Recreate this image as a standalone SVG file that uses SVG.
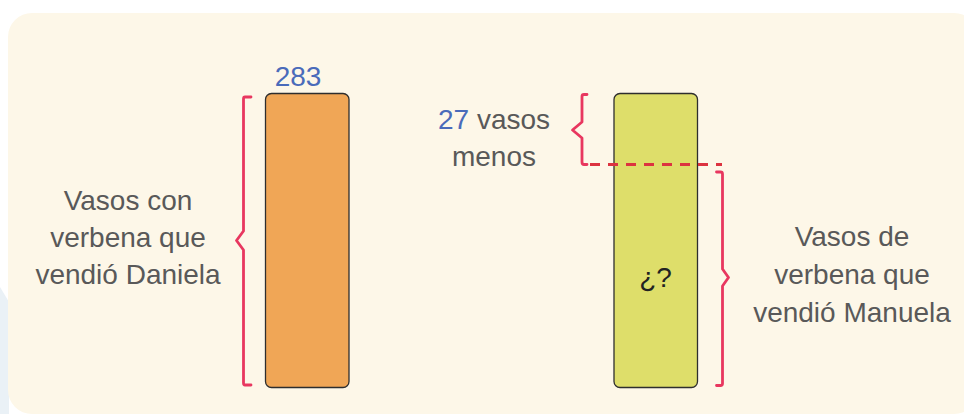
<svg xmlns="http://www.w3.org/2000/svg" width="964" height="414" viewBox="0 0 964 414">
  <style>
    .lbl { font-family: "Liberation Sans", Arial, sans-serif; font-size: 28px; fill: #595959; text-anchor: middle; }
    .num { fill: #4A6BBA; }
    .bar { stroke: #2E2E2E; stroke-width: 1.3; }
    .brace { fill: none; stroke: #E8375F; stroke-width: 2.8; stroke-linejoin: round; stroke-linecap: round; }
    .dash { fill: none; stroke: #DC3340; stroke-width: 3; stroke-dasharray: 10 8; }
  </style>
  <rect x="0" y="0" width="964" height="414" fill="#FFFFFF"/>
  <path d="M0,287 L9,302 L9,414 L0,414 Z" fill="#EAF1F6"/>
  <rect id="panel" x="8" y="13" width="970" height="401" rx="24" fill="#FDF7E8"/>

  <g id="bar-daniela">
    <rect class="bar" x="265.5" y="93.5" width="83.5" height="294" rx="6" fill="#F0A656"/>
    <text class="lbl num" x="298" y="86">283</text>
  </g>

  <g id="bar-manuela">
    <rect class="bar" x="614" y="93.5" width="83.5" height="294" rx="6" fill="#DEDE6A"/>
    <text class="lbl" x="655.5" y="287" style="fill:#222222">¿?</text>
  </g>

  <g id="label-daniela">
    <text class="lbl" x="128" y="210">Vasos con</text>
    <text class="lbl" x="128" y="247">verbena que</text>
    <text class="lbl" x="128" y="284">vendió Daniela</text>
  </g>

  <g id="label-diff">
    <text class="lbl" x="494" y="129"><tspan class="num">27</tspan> vasos</text>
    <text class="lbl" x="494" y="166">menos</text>
  </g>

  <g id="label-manuela">
    <text class="lbl" x="852" y="246">Vasos de</text>
    <text class="lbl" x="852" y="284">verbena que</text>
    <text class="lbl" x="852" y="322">vendió Manuela</text>
  </g>

  <g id="connectors">
    <path class="brace" d="M251,97 L245,97 Q243.5,97 243.5,99 L243.5,231 L236.5,240.5 L243.5,250 L243.5,383 Q243.5,385 245,385 L251,385"/>
    <path class="brace" d="M587,94.5 L584,94.5 Q582,94.5 582,96.5 L582,122 L572.5,130 L582,138 L582,162 Q582,164.5 584,164.5 L587,164.5"/>
    <line class="dash" x1="590" y1="164.5" x2="722" y2="164.5"/>
    <path class="brace" d="M716.5,172 L720.5,172 Q722.5,172 722.5,174 L722.5,269 L728.5,277.5 L722.5,286 L722.5,383.5 Q722.5,385.5 720.5,385.5 L716.5,385.5"/>
  </g>
</svg>
